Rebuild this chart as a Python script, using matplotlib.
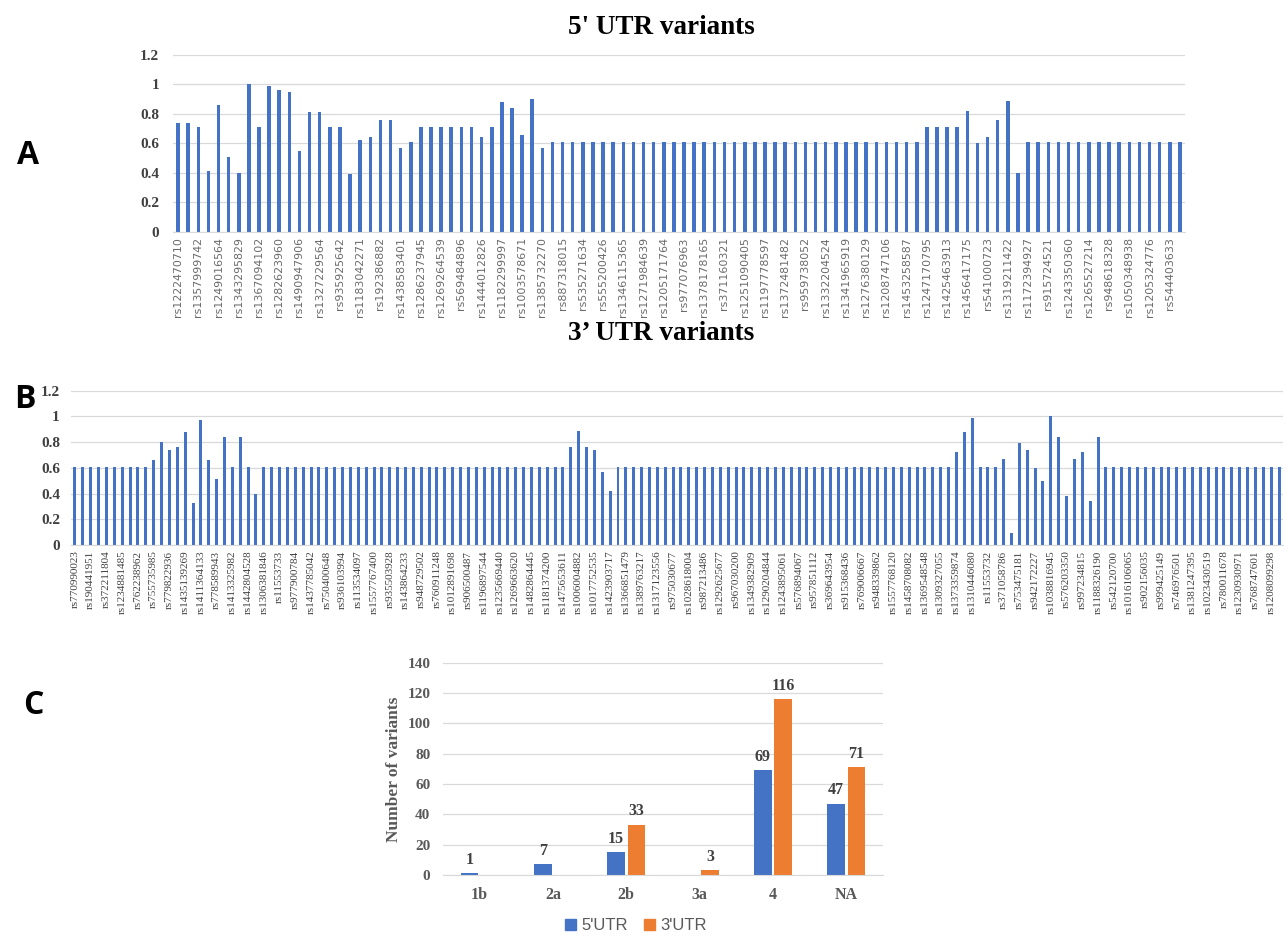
import matplotlib
matplotlib.use('Agg')
import matplotlib.pyplot as plt
from matplotlib.patches import Patch
import numpy as np

BLUE = '#4472C4'
ORANGE = '#ED7D31'
GRID = '#D9D9D9'
SERIF = 'Liberation Serif'

# RegulomeDB probability scores, 5' UTR variants (labels shown on every other bar)
utr5_ids = ['rs1222470710', 'rs1357999742', 'rs1249016564', 'rs1343295829', 'rs1367094102',
            'rs1282623960', 'rs1490947906', 'rs1327229564', 'rs935925642', 'rs1183042271',
            'rs192386882', 'rs1438583401', 'rs1286237945', 'rs1269264539', 'rs569484896',
            'rs1444012826', 'rs1182299997', 'rs1003578671', 'rs1385732270', 'rs887318015',
            'rs535271634', 'rs555200426', 'rs1346115365', 'rs1271984639', 'rs1205171764',
            'rs977076963', 'rs1378178165', 'rs371160321', 'rs1251090405', 'rs1197778597',
            'rs1372481482', 'rs959738052', 'rs1332204524', 'rs1341965919', 'rs1276380129',
            'rs1208747106', 'rs1453258587', 'rs1247170795', 'rs1425463913', 'rs1456417175',
            'rs541000723', 'rs1319211422', 'rs1172394927', 'rs915724521', 'rs1243350360',
            'rs1265527214', 'rs948618328', 'rs1050348938', 'rs1205324776', 'rs544403633']
utr5_scores = [0.74, 0.74, 0.71, 0.41, 0.86, 0.51, 0.40, 1.00, 0.71, 0.99,
               0.96, 0.95, 0.55, 0.81, 0.81, 0.71, 0.71, 0.39, 0.62, 0.64,
               0.76, 0.76, 0.57, 0.61, 0.71, 0.71, 0.71, 0.71, 0.71, 0.71,
               0.64, 0.71, 0.88, 0.84, 0.66, 0.90, 0.57, 0.61, 0.61, 0.61,
               0.61, 0.61, 0.61, 0.61, 0.61, 0.61, 0.61, 0.61, 0.61, 0.61,
               0.61, 0.61, 0.61, 0.61, 0.61, 0.61, 0.61, 0.61, 0.61, 0.61,
               0.61, 0.61, 0.61, 0.61, 0.61, 0.61, 0.61, 0.61, 0.61, 0.61,
               0.61, 0.61, 0.61, 0.61, 0.71, 0.71, 0.71, 0.71, 0.82, 0.60,
               0.64, 0.76, 0.89, 0.40, 0.61, 0.61, 0.61, 0.61, 0.61, 0.61,
               0.61, 0.61, 0.61, 0.61, 0.61, 0.61, 0.61, 0.61, 0.61, 0.61]

# 3' UTR variants
utr3_ids = ['rs770990023', 'rs190441951', 'rs372211804', 'rs1234881485', 'rs762238962',
            'rs755735985', 'rs779822936', 'rs1435139269', 'rs1411364133', 'rs778589943',
            'rs1413325982', 'rs1442804528', 'rs1306381846', 'rs11553733', 'rs977900784',
            'rs1437785042', 'rs750400648', 'rs936103994', 'rs113534097', 'rs1557767400',
            'rs935503928', 'rs143864233', 'rs948729502', 'rs760911248', 'rs1012891698',
            'rs906500487', 'rs1196897544', 'rs1235669440', 'rs1269663620', 'rs1482864445',
            'rs1181374200', 'rs1475653611', 'rs1006004882', 'rs1017752535', 'rs1423903717',
            'rs1366851479', 'rs1389763217', 'rs1317123556', 'rs975030677', 'rs1028618004',
            'rs987213486', 'rs1292625677', 'rs967030200', 'rs1349382909', 'rs1290204844',
            'rs1243895061', 'rs576894067', 'rs957851112', 'rs369643954', 'rs915368436',
            'rs769006667', 'rs948339862', 'rs1557768120', 'rs1458708082', 'rs1369548548',
            'rs1309327055', 'rs1373359874', 'rs1310446080', 'rs11553732', 'rs371058786',
            'rs753475181', 'rs942172227', 'rs1038816945', 'rs576203350', 'rs997234815',
            'rs1188326190', 'rs542120700', 'rs1016106065', 'rs902156035', 'rs999425149',
            'rs746976501', 'rs1381247395', 'rs1023430519', 'rs780011678', 'rs1230930971',
            'rs768747601', 'rs1208099298']
utr3_scores = [0.61, 0.61, 0.61, 0.61, 0.61, 0.61, 0.61, 0.61, 0.61, 0.61,
               0.66, 0.80, 0.74, 0.76, 0.88, 0.33, 0.97, 0.66, 0.51, 0.84,
               0.61, 0.84, 0.61, 0.40, 0.61, 0.61, 0.61, 0.61, 0.61, 0.61,
               0.61, 0.61, 0.61, 0.61, 0.61, 0.61, 0.61, 0.61, 0.61, 0.61,
               0.61, 0.61, 0.61, 0.61, 0.61, 0.61, 0.61, 0.61, 0.61, 0.61,
               0.61, 0.61, 0.61, 0.61, 0.61, 0.61, 0.61, 0.61, 0.61, 0.61,
               0.61, 0.61, 0.61, 0.76, 0.89, 0.76, 0.74, 0.57, 0.42, 0.61,
               0.61, 0.61, 0.61, 0.61, 0.61, 0.61, 0.61, 0.61, 0.61, 0.61,
               0.61, 0.61, 0.61, 0.61, 0.61, 0.61, 0.61, 0.61, 0.61, 0.61,
               0.61, 0.61, 0.61, 0.61, 0.61, 0.61, 0.61, 0.61, 0.61, 0.61,
               0.61, 0.61, 0.61, 0.61, 0.61, 0.61, 0.61, 0.61, 0.61, 0.61,
               0.61, 0.61, 0.72, 0.88, 0.99, 0.61, 0.61, 0.61, 0.67, 0.09,
               0.79, 0.74, 0.60, 0.50, 1.00, 0.84, 0.38, 0.67, 0.72, 0.34,
               0.84, 0.61, 0.61, 0.61, 0.61, 0.61, 0.61, 0.61, 0.61, 0.61,
               0.61, 0.61, 0.61, 0.61, 0.61, 0.61, 0.61, 0.61, 0.61, 0.61,
               0.61, 0.61, 0.61, 0.61]

# variant counts per RegulomeDB rank
ranks = ['1b', '2a', '2b', '3a', '4', 'NA']
count_5utr = [1, 7, 15, 0, 69, 47]
count_3utr = [0, 0, 33, 3, 116, 71]

score_ticks = [0, 0.2, 0.4, 0.6, 0.8, 1.0, 1.2]
score_ticklabels = ['0', '0.2', '0.4', '0.6', '0.8', '1', '1.2']

fig = plt.figure(figsize=(12.87, 9.36), dpi=100)


def score_panel(rect, ids, scores, width, lab_font, lab_size, lab_color, ypad):
    ax = fig.add_axes(rect)
    x = np.arange(len(scores))
    ax.bar(x, scores, width=width, color=BLUE, zorder=2)
    ax.set_xlim(-0.5, len(scores) - 0.5)
    ax.set_ylim(0, 1.2)
    ax.set_yticks(score_ticks)
    ax.set_yticklabels(score_ticklabels, family=SERIF, weight='bold',
                       fontsize=11, color='#404040')
    ax.set_xticks(x[::2])
    ax.set_xticklabels(ids, rotation=90, family=lab_font, fontsize=lab_size,
                       color=lab_color)
    ax.yaxis.grid(True, color=GRID, lw=0.9)
    ax.set_axisbelow(True)
    for s in ['top', 'right', 'left']:
        ax.spines[s].set_visible(False)
    ax.spines['bottom'].set_color(GRID)
    ax.tick_params(axis='both', length=0)
    ax.tick_params(axis='y', pad=ypad)
    ax.tick_params(axis='x', pad=4)
    return ax


axA = score_panel([0.1344, 0.7525, 0.7863, 0.1887], utr5_ids, utr5_scores, 0.35,
                  'DejaVu Sans', 7.9, '#6a6a6a', 10)
axB = score_panel([0.0552, 0.4177, 0.9417, 0.1649], utr3_ids, utr3_scores, 0.38,
                  SERIF, 8, '#404040', 8)

fig.text(661 / 1287, 1 - 27 / 936, "5' UTR variants", ha='center', va='center',
         family=SERIF, weight='bold', fontsize=19.5)
fig.text(661 / 1287, 1 - 333 / 936, "3\u2019 UTR variants", ha='center', va='center',
         family=SERIF, weight='bold', fontsize=19.5)

for letter, (px, py) in zip('ABC', [(28, 155), (25, 400), (33, 705)]):
    fig.text(px / 1287, 1 - py / 936, letter, ha='center', va='center',
             family='Open Sans', weight='bold', fontsize=23)

# panel C: grouped bars of variant counts
axC = fig.add_axes([0.3442, 0.0652, 0.3419, 0.2268])
xc = np.arange(len(ranks))
w = 0.24
b5 = axC.bar(xc - 0.14, count_5utr, width=w, color=BLUE, zorder=2)
b3 = axC.bar(xc + 0.14, count_3utr, width=w, color=ORANGE, zorder=2)
for bars, vals in [(b5, count_5utr), (b3, count_3utr)]:
    for rect, v in zip(bars, vals):
        if v == 0:
            continue
        axC.annotate(str(v), (rect.get_x() + rect.get_width() / 2, v),
                     xytext=(0, 4), textcoords='offset points', ha='center',
                     va='bottom', family=SERIF, weight='bold', fontsize=11.5,
                     color='#404040')
axC.set_xlim(-0.5, len(ranks) - 0.5)
axC.set_ylim(0, 140)
axC.set_yticks(range(0, 141, 20))
axC.set_xticks(xc)
axC.set_xticklabels(ranks, family=SERIF, weight='bold', fontsize=11.5, color='#595959')
for lab in axC.get_yticklabels():
    lab.set_family(SERIF)
    lab.set_weight('bold')
    lab.set_fontsize(11)
    lab.set_color('#595959')
axC.set_ylabel('Number of variants', family=SERIF, weight='bold', fontsize=12.5,
               color='#595959', labelpad=4)
axC.yaxis.grid(True, color=GRID, lw=0.9)
axC.set_axisbelow(True)
for s in ['top', 'right', 'left']:
    axC.spines[s].set_visible(False)
axC.spines['bottom'].set_color(GRID)
axC.tick_params(axis='both', length=0)
axC.tick_params(axis='y', pad=9)
axC.tick_params(axis='x', pad=9)

handles = [Patch(color=BLUE, label="5'UTR"), Patch(color=ORANGE, label="3'UTR")]
fig.legend(handles=handles, loc='center', bbox_to_anchor=(636 / 1287, 1 - 926 / 936),
           ncol=2, frameon=False, handlelength=0.65, handleheight=0.65,
           handletextpad=0.3, columnspacing=1.0,
           prop={'family': 'Liberation Sans', 'size': 12}, labelcolor='#595959')

fig.savefig('out.png', dpi=100)
